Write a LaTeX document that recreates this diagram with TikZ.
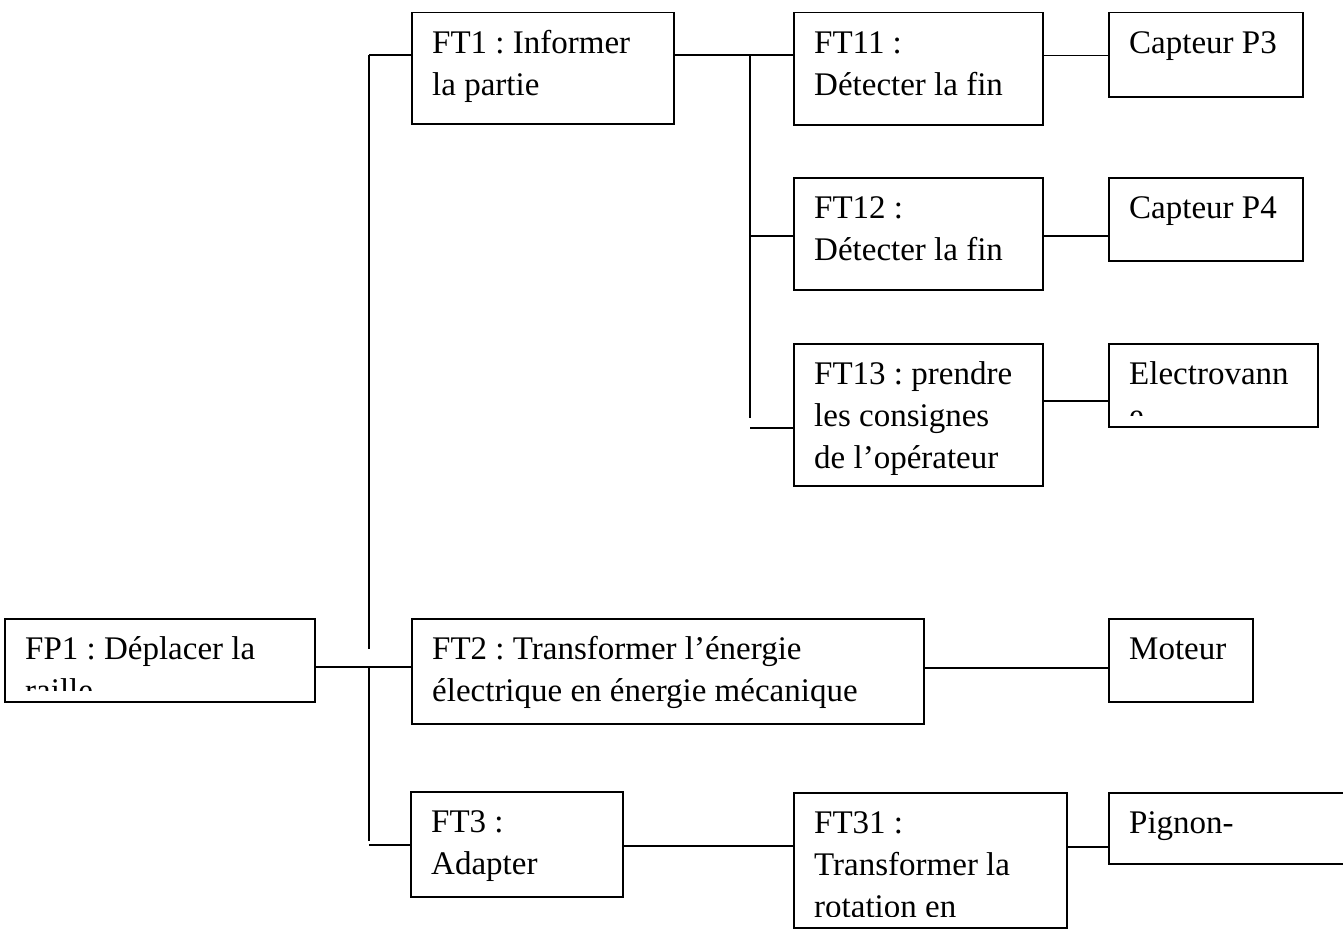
\documentclass[tikz,border=0pt]{standalone}
\usepackage{fontspec}
\setmainfont{Liberation Serif}
\frenchspacing
\newcommand\boxfont{\fontsize{33}{42}\selectfont\frenchspacing}
\newcommand\drawbox[7][11]{%
  \node[box, minimum width={#5-#3}, minimum height={#6-#4}] (#2) at (#3,#4) {};
  \begin{scope}
    \clip (#3,#4) rectangle (#5,#6-#1);
    \node[lbl] (#2-text) at (#3+21,#4+11) {\rule{0pt}{30pt}#7};
  \end{scope}}
\begin{document}
\begin{tikzpicture}[x=1pt,y=-1pt,
  box/.style={draw, line width=1.5pt, inner sep=0pt, anchor=north west},
  lbl/.style={anchor=north west, inner sep=0pt, align=left, font=\boxfont},
  wire/.style={line width=1.5pt}]
\fill[white] (0,0) rectangle (1343,934);
\clip (0,0) rectangle (1343,934);
% boxes
\drawbox{FP1}{4}{618}{314}{701}{FP1 : Déplacer la\\raille}
\drawbox{FT1}{411}{12}{673}{123}{FT1 : Informer\\la partie}
\drawbox{FT11}{793}{12}{1042}{124}{FT11 :\\Détecter la fin}
\drawbox{P3}{1108}{12}{1302}{96}{Capteur P3}
\drawbox{FT12}{793}{177}{1042}{289}{FT12 :\\Détecter la fin}
\drawbox{P4}{1108}{177}{1302}{260}{Capteur P4}
\drawbox{FT13}{793}{343}{1042}{485}{FT13 : prendre\\les consignes\\de l’opérateur}
\drawbox{EV}{1108}{343}{1317}{426}{Electrovann\\e}
\drawbox{FT2}{411}{618}{923}{723}{FT2 : Transformer l’énergie\\électrique en énergie mécanique}
\drawbox{MOT}{1108}{618}{1252}{701}{Moteur}
\drawbox{FT3}{410}{791}{622}{896}{FT3 :\\Adapter}
\drawbox{FT31}{793}{792}{1066}{927}{FT31 :\\Transformer la\\rotation en}
\drawbox[13]{PIG}{1108}{792}{1360}{863}{Pignon-\\crémaillère}
% junction coordinates
\coordinate (tA) at (369,55);
\coordinate (tB) at (369,649);
\coordinate (tC) at (369,667);
\coordinate (tD) at (369,841);
\coordinate (tE) at (369,845);
\coordinate (sA) at (750,55);
\coordinate (sB) at (750,418);
\coordinate (sC) at (750,236);
\coordinate (sD) at (750,428);
% connectors
\draw[wire] (tA) -- (tB);
\draw[wire] (tC) -- (tD);
\draw[wire] (tA) -- (tA -| FT1.west);
\draw[wire] (tC -| FP1.east) -- (tC -| FT2.west);
\draw[wire] (tE) -- (tE -| FT3.west);
\draw[wire] (sA -| FT1.east) -- (sA -| FT11.west);
\draw[wire] (sA) -- (sB);
\draw[wire] (sC) -- (sC -| FT12.west);
\draw[wire] (sD) -- (sD -| FT13.west);
\draw[wire] ([yshift=13pt]FT11.east) -- ([yshift=13pt]FT11.east -| P3.west);
\draw[wire] ([yshift=-2pt]FT12.east) -- ([yshift=-2pt]FT12.east -| P4.west);
\draw[wire] ([yshift=14pt]FT13.east) -- ([yshift=14pt]FT13.east -| EV.west);
\draw[wire] ([yshift=3.5pt]FT2.east) -- ([yshift=3.5pt]FT2.east -| MOT.west);
\draw[wire] ([yshift=-1.5pt]FT3.east) -- ([yshift=-1.5pt]FT3.east -| FT31.west);
\draw[wire] ([yshift=13.5pt]FT31.east) -- ([yshift=13.5pt]FT31.east -| PIG.west);
\end{tikzpicture}
\end{document}
